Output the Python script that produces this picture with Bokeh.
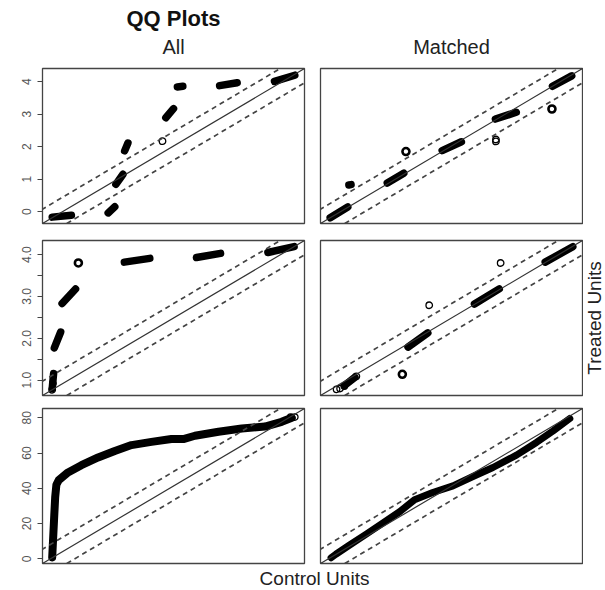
import numpy as np
from bokeh.plotting import figure
from bokeh.models import Range1d, Slope, FixedTicker, PrintfTickFormatter
from bokeh.layouts import column, row
from bokeh.embed import file_html
from bokeh.resources import INLINE
from bokeh.core.properties import value

FONT = "Liberation Sans"

# ---------------- data (control quantile x, treated quantile y) ----------------
# Row 1 -- All : clusters (start / end) and lone points
r1_all_x0 = [-0.19, 0.83, 0.97, 1.13, 1.88, 2.09, 2.86, 3.86]
r1_all_y0 = [-0.17, -0.04, 0.84, 1.87, 2.89, 3.84, 3.88, 4.01]
r1_all_x1 = [0.16, 0.95, 1.10, 1.19, 2.02, 2.19, 3.18, 4.23]
r1_all_y1 = [-0.11, 0.15, 1.15, 2.11, 3.17, 3.86, 3.97, 4.20]
r1_all_px = [1.82]
r1_all_py = [2.17]
r1_all_bx = []
r1_all_by = []

# Row 1 -- Matched
r1_mat_x0 = [-0.19, 0.15, 0.85, 1.85, 2.82, 3.86]
r1_mat_y0 = [-0.19, 0.82, 0.88, 1.88, 2.85, 3.86]
r1_mat_x1 = [0.13, 0.19, 1.15, 2.20, 3.20, 4.21]
r1_mat_y1 = [0.14, 0.83, 1.18, 2.15, 3.06, 4.18]
r1_mat_px = [2.83, 2.83]
r1_mat_py = [2.16, 2.22]
r1_mat_bx = [1.19, 3.85]
r1_mat_by = [1.85, 3.16]

# Row 2 -- All
r2_all_x0 = [0.77, 0.80, 0.91, 1.79, 2.81, 3.82]
r2_all_y0 = [0.80, 1.77, 2.83, 3.82, 3.93, 4.05]
r2_all_x1 = [0.79, 0.89, 1.10, 2.15, 3.15, 4.19]
r2_all_y1 = [1.16, 2.15, 3.18, 3.91, 4.03, 4.19]
r2_all_px = [0.77, 0.78]
r2_all_py = [0.77, 0.92]
r2_all_bx = [1.14]
r2_all_by = [3.80]

# Row 2 -- Matched
r2_mat_x0 = [0.97, 1.87, 2.81, 3.81]
r2_mat_y0 = [0.87, 1.79, 2.82, 3.82]
r2_mat_x1 = [1.12, 2.15, 3.16, 4.20]
r2_mat_y1 = [1.07, 2.13, 3.18, 4.19]
r2_mat_px = [0.86, 0.91, 0.97, 1.14, 2.17, 3.18]
r2_mat_py = [0.78, 0.80, 0.86, 1.09, 2.79, 3.80]
r2_mat_bx = [1.79]
r2_mat_by = [1.14]

# Row 3 -- All (dense quantile curve)
r3_all_cx = [0.6, 1.3, 1.6, 2.0, 2.8, 5.9, 10.4, 16.0, 21.6, 27.2, 33.9, 40.6,
             44.6, 48.5, 56.4, 64.2, 72.0, 77.6, 81.0]
r3_all_cy = [0.8, 25.0, 35.0, 42.0, 44.6, 49.0, 53.1, 57.5, 61.2, 64.5, 66.3, 68.0,
             67.9, 69.8, 72.1, 73.9, 75.0, 77.7, 80.0]
r3_all_px = [80.6, 82.0]
r3_all_py = [80.4, 80.4]

# Row 3 -- Matched
r3_mat_cx = [0.9, 2.5, 7.0, 12.7, 18.2, 23.9, 28.9, 35.0, 41.8, 48.5, 55.2, 63.1,
             69.8, 75.4, 81.0]
r3_mat_cy = [0.6, 2.6, 7.7, 14.0, 20.2, 26.7, 33.5, 37.6, 41.4, 46.7, 51.8, 58.8,
             66.0, 72.6, 79.6]

# tick labels
r1_ticks = [0, 1, 2, 3, 4]
r1_labels = ["0", "1", "2", "3", "4"]
r2_ticks = [1.0, 1.5, 2.0, 2.5, 3.0, 3.5, 4.0]
r2_labels = ["1.0", "", "2.0", "", "3.0", "", "4.0"]
r3_ticks = [0, 20, 40, 60, 80]
r3_labels = ["0", "20", "40", "60", "80"]

column_titles = ["All", "Matched"]
main_title = "QQ Plots"
x_label = "Control Units"
y_label = "Treated Units"


def data_range(*arrs):
    vals = np.concatenate([np.asarray(a, dtype=float) for a in arrs if len(a)])
    return vals.min(), vals.max()


def panel(width, height, borders, lo, hi, left_axis, ticks=None, labels=None):
    pad = 0.04 * (hi - lo)
    p = figure(width=width, height=height, output_backend="svg", toolbar_location=None,
               x_range=Range1d(lo - pad, hi + pad), y_range=Range1d(lo - pad, hi + pad),
               x_axis_location=None, y_axis_location="left" if left_axis else None,
               min_border_left=borders[0], min_border_right=borders[1],
               min_border_top=borders[2], min_border_bottom=borders[3],
               background_fill_color="white", border_fill_color="white")
    p.outline_line_color = "#444444"
    p.outline_line_width = 1.3
    p.grid.visible = False
    if left_axis:
        ax = p.yaxis[0]
        ax.ticker = FixedTicker(ticks=ticks, minor_ticks=[])
        ax.major_label_overrides = dict(zip(ticks, labels))
        ax.major_label_orientation = "vertical"
        ax.major_tick_out = 5
        ax.major_tick_in = 0
        ax.minor_tick_out = 0
        ax.minor_tick_in = 0
        ax.axis_line_color = None
        ax.major_tick_line_color = "#444444"
        ax.major_label_text_font = FONT
        ax.major_label_text_font_size = "12px"
        ax.major_label_text_color = "#555555"
        ax.major_label_standoff = 6
    r = hi - lo
    p.add_layout(Slope(gradient=1, y_intercept=0, line_color="#333333", line_width=1.2))
    for off in (0.1 * r, -0.1 * r):
        p.add_layout(Slope(gradient=1, y_intercept=off, line_color="#444444",
                           line_width=1.7, line_dash="5 4"))
    return p


def add_marks(p, x0, y0, x1, y1, px, py, bx, by, lw=7.5):
    if len(x0):
        p.segment(x0=x0, y0=y0, x1=x1, y1=y1, line_color="black", line_width=lw,
                  line_cap="round")
    if len(px):
        p.scatter(px, py, marker="circle", size=6.5, fill_color=None,
                  line_color="black", line_width=1.3)
    if len(bx):
        p.scatter(bx, by, marker="circle", size=7, fill_color=None,
                  line_color="black", line_width=2.6)


def strip(width, height, borders):
    s = figure(width=width, height=height, output_backend="svg", toolbar_location=None,
               x_range=Range1d(-1, 1), y_range=Range1d(0, 1),
               x_axis_location=None, y_axis_location=None,
               min_border_left=borders[0], min_border_right=borders[1],
               min_border_top=borders[2], min_border_bottom=borders[3],
               outline_line_color=None, border_fill_color="white")
    s.grid.visible = False
    return s


def put_text(s, txt, y, size, bold=False, angle=0.0, x=0.0):
    s.text(x=[x], y=[y], text=[txt], angle=angle, text_align="center",
           text_baseline="middle", text_font=value(FONT), text_font_size=size,
           text_font_style="bold" if bold else "normal",
           text_color="#111111" if bold else "#222222")


LW, RW = 312, 271
LB = (42, 8)
RB = (8, 1)

# ---- header strips (titles)
t_left = strip(LW, 64, LB + (0, 0))
put_text(t_left, main_title, 0.719, "22px", bold=True)
put_text(t_left, column_titles[0], 0.273, "20px")
t_right = strip(RW, 64, RB + (0, 0))
put_text(t_right, column_titles[1], 0.273, "20px")

# ---- row 1
lo1, hi1 = data_range(r1_all_x0, r1_all_y0, r1_all_x1, r1_all_y1,
                      r1_mat_x0, r1_mat_y0, r1_mat_x1, r1_mat_y1)
f11 = panel(LW, 167, LB + (4, 8), lo1, hi1, True, r1_ticks, r1_labels)
f12 = panel(RW, 167, RB + (4, 8), lo1, hi1, False)
add_marks(f11, r1_all_x0, r1_all_y0, r1_all_x1, r1_all_y1, r1_all_px, r1_all_py,
          r1_all_bx, r1_all_by)
add_marks(f12, r1_mat_x0, r1_mat_y0, r1_mat_x1, r1_mat_y1, r1_mat_px, r1_mat_py,
          r1_mat_bx, r1_mat_by)

# ---- row 2
lo2, hi2 = data_range(r2_all_x0, r2_all_y0, r2_all_x1, r2_all_y1, r2_all_px, r2_all_py,
                      r2_mat_x0, r2_mat_y0, r2_mat_x1, r2_mat_y1, r2_mat_px, r2_mat_py)
f21 = panel(LW, 171, LB + (9, 7), lo2, hi2, True, r2_ticks, r2_labels)
f21.yaxis[0].formatter = PrintfTickFormatter(format="%.1f")
f22 = panel(RW, 171, RB + (9, 7), lo2, hi2, False)
add_marks(f21, r2_all_x0, r2_all_y0, r2_all_x1, r2_all_y1, r2_all_px, r2_all_py,
          r2_all_bx, r2_all_by)
add_marks(f22, r2_mat_x0, r2_mat_y0, r2_mat_x1, r2_mat_y1, r2_mat_px, r2_mat_py,
          r2_mat_bx, r2_mat_by)

ystrip = strip(22, 171, (0, 0, 9, 7))
put_text(ystrip, y_label, 0.5, "19px", angle=np.pi / 2)

# ---- row 3
lo3, hi3 = data_range(r3_all_cx, r3_all_cy, r3_all_px, r3_all_py, r3_mat_cx, r3_mat_cy)
f31 = panel(LW, 164, LB + (6, 3), lo3, hi3, True, r3_ticks, r3_labels)
f32 = panel(RW, 164, RB + (6, 3), lo3, hi3, False)
f31.line(r3_all_cx, r3_all_cy, line_color="black", line_width=8, line_cap="round",
         line_join="round")
f31.scatter(r3_all_px, r3_all_py, marker="circle", size=6.5, fill_color=None,
            line_color="black", line_width=1.3)
f32.line(r3_mat_cx, r3_mat_cy, line_color="black", line_width=7, line_cap="round",
         line_join="round")

xstrip = strip(605, 24, (23, 0, 0, 0))
put_text(xstrip, x_label, 0.5, "19px")

layout = column(row(t_left, t_right), row(f11, f12), row(f21, f22, ystrip),
                row(f31, f32), xstrip)
open("out.html", "w").write(file_html(layout, INLINE))
